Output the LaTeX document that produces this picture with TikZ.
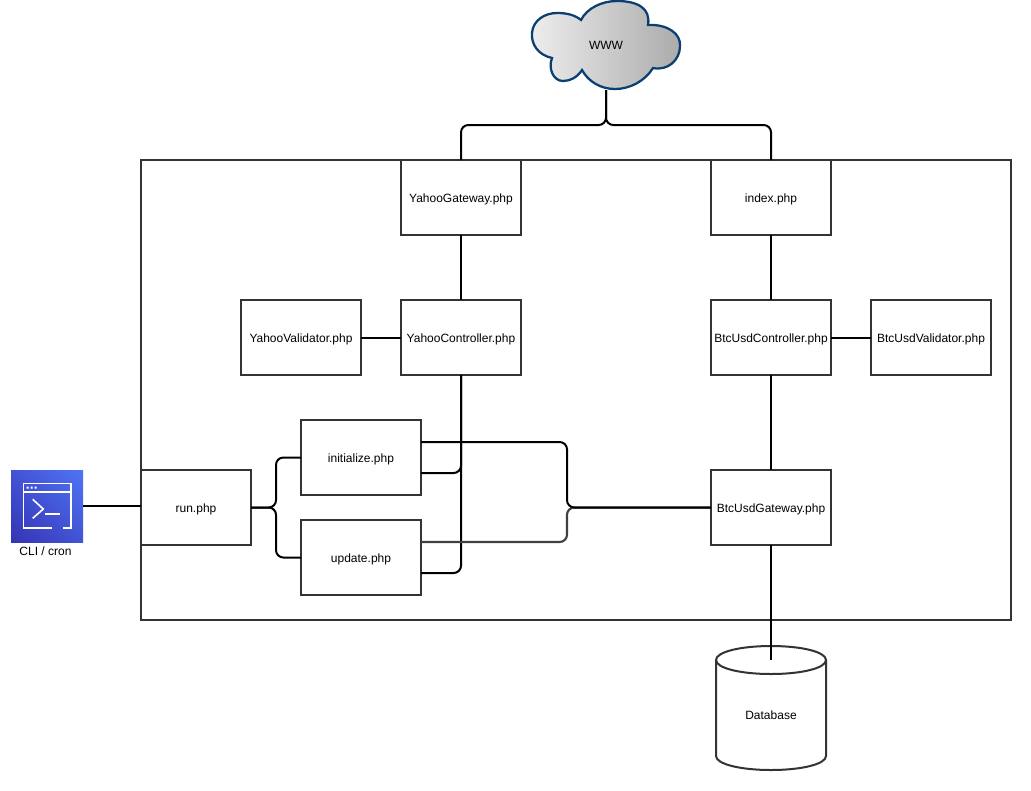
\documentclass[tikz,border=0pt]{standalone}
\usepackage{fontspec}
\setmainfont{Liberation Sans}
\usetikzlibrary{calc,shadings}
\definecolor{boxline}{HTML}{333333}
\definecolor{cloudline}{HTML}{0B3F72}
\definecolor{icona}{HTML}{3434B4}
\definecolor{iconb}{HTML}{4F74F5}
\definecolor{iconm}{HTML}{4254D4}
\tikzset{
  phpbox/.style={draw=boxline,line width=1.5pt,fill=white,minimum width=90pt,minimum height=56.25pt,inner sep=0pt,outer sep=0pt,text height=6.8pt,text depth=0pt,font=\fontsize{9}{11}\selectfont},
  runbox/.style={phpbox,minimum width=82.5pt},
  plainlabel/.style={inner sep=0pt,outer sep=0pt,font=\fontsize{9}{11}\selectfont},
  wire/.style={draw=black,line width=1.5pt,rounded corners=5.5pt},
  greywire/.style={wire,draw=black!75,line width=1.6pt},
  iconline/.style={draw=white,line width=1.2pt},
}
\begin{document}
\begin{tikzpicture}[x=0.75pt,y=-0.75pt]
\useasboundingbox (0,0) rectangle (1031,790);
% container
\draw[draw=boxline,line width=1.5pt] (141,160) rectangle (1011,620);
% cloud
\path[left color=black!7,right color=black!33,draw=cloudline,line width=1.7pt]
  (581,20) .. controls (587,8) and (602,1) .. (617,1)
  .. controls (637,1) and (651,8) .. (648,25)
  .. controls (668,24) and (681,34) .. (680,46)
  .. controls (680,60) and (668,71) .. (653,68)
  .. controls (645,81) and (630,89) .. (615,89)
  .. controls (600,89) and (588,81) .. (582,70)
  .. controls (577,78) and (569,81) .. (563,81)
  .. controls (553,81) and (548,68) .. (552,58)
  .. controls (538,55) and (531,44) .. (532,33)
  .. controls (533,20) and (545,13) .. (557,13)
  .. controls (567,13) and (575,15) .. (581,20) -- cycle;
\node[plainlabel] (www) at (606,45) {WWW};
\coordinate (cloudb) at (606,90);
% boxes
\node[phpbox] (ygw) at (461,197.5) {YahooGateway.php};
\node[phpbox] (idx) at (771,197.5) {index.php};
\node[phpbox] (yval) at (301,337.5) {YahooValidator.php};
\node[phpbox] (yctl) at (461,337.5) {YahooController.php};
\node[phpbox] (bctl) at (771,337.5) {BtcUsdController.php};
\node[phpbox] (bval) at (931,337.5) {BtcUsdValidator.php};
\node[runbox] (run) at (196,507.5) {run.php};
\node[phpbox] (init) at (361,457.5) {initialize.php};
\node[phpbox] (upd) at (361,557.5) {update.php};
\node[phpbox] (bgw) at (771,507.5) {BtcUsdGateway.php};
% database
\draw[draw=boxline,line width=1.5pt,fill=white]
  (716,660) .. controls (716,652) and (740,646) .. (771,646)
  .. controls (802,646) and (826,652) .. (826,660)
  -- (826,756) .. controls (826,764) and (802,770) .. (771,770)
  .. controls (740,770) and (716,764) .. (716,756) -- cycle;
\draw[draw=boxline,line width=1.5pt]
  (716,660) .. controls (716,668) and (740,674) .. (771,674)
  .. controls (802,674) and (826,668) .. (826,660);
\node[plainlabel] (db) at (771,715) {Database};
\coordinate (dbtop) at (771,660);
% cli icon
\node[minimum size=54pt,inner sep=0pt,outer sep=0pt,shading=bilinear interpolation,lower left=icona,upper right=iconb,upper left=iconm,lower right=iconm] (cli) at (47,506) {};
\draw[iconline] (51.7,528) -- (23.5,528) -- (23.5,483.5) -- (71,483.5) -- (71,528) -- (63.3,528);
\draw[iconline] (23.5,491.7) -- (71,491.7);
\fill[white] (26.5,486.5) rectangle (28.5,488.5) (30.5,486.5) rectangle (32.5,488.5) (34.5,486.5) rectangle (36.5,488.5);
\draw[iconline] (32.7,499.3) -- (43.3,509) -- (32.7,518.3);
\draw[iconline] (45,514) -- (60,514);
\node[plainlabel] (clilabel) at (45.5,551) {CLI / cron};
% connectors
\draw[wire] (cloudb) -- ++(0,35) -| (ygw.north);
\draw[wire] (cloudb) -- ++(0,35) -| (idx.north);
\draw[wire] (ygw) -- (yctl);
\draw[wire] (yval) -- (yctl);
\draw[wire] (idx) -- (bctl);
\draw[wire] (bctl) -- (bval);
\draw[wire] (bctl) -- (bgw);
\draw[wire] (bgw.south) -- (dbtop);
\draw[wire] (cli.east) -- (run.west |- cli.east);
\draw[wire] (run.east) -| ($(run.east)!.5!(init.west)$) |- (init.west);
\draw[wire] (run.east) -| ($(run.east)!.5!(upd.west)$) |- (upd.west);
\draw[wire] (yctl.south) |- ($(init.east)+(0,15.5)$);
\draw[wire] (yctl.south) |- ($(upd.east)+(0,15.5)$);
\draw[greywire] ($(upd.east)+(0,-15.5)$) -- (567,542) -- (567,507.5) -- (bgw.west);
\draw[wire] ($(init.east)+(0,-15.5)$) -- (567,442) -- (567,507.5) -- (bgw.west);
\end{tikzpicture}
\end{document}
